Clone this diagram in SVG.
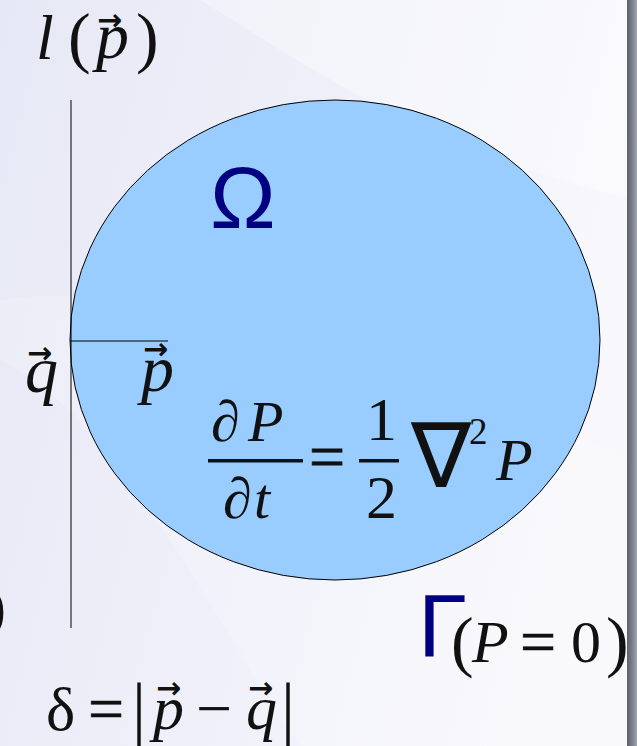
<svg xmlns="http://www.w3.org/2000/svg" width="637" height="746" viewBox="0 0 637 746">
<defs>
<linearGradient id="bg" x1="0" y1="0" x2="1" y2="0.3">
<stop offset="0" stop-color="#e6e8f5"/>
<stop offset="0.55" stop-color="#eff0f9"/>
<stop offset="1" stop-color="#f8f8fc"/>
</linearGradient>
<linearGradient id="bar" x1="0" y1="0" x2="1" y2="0">
<stop offset="0" stop-color="#5c606a"/>
<stop offset="0.5" stop-color="#7a7e88"/>
<stop offset="1" stop-color="#a4a6ae"/>
</linearGradient>
<style>
.m{font-family:"Liberation Serif","DejaVu Serif",serif;fill:#111}
.i{font-style:italic}
.v{font-family:"DejaVu Sans",sans-serif;font-weight:bold;font-size:30px;fill:#111}
.g{font-family:"Liberation Sans","DejaVu Sans",sans-serif;fill:#000080}
.ln{stroke:#000;stroke-width:1;fill:none}
</style>
</defs>
<rect width="637" height="746" fill="url(#bg)"/>
<path d="M200 0 C300 60 420 150 637 200 L637 0 Z" fill="#ffffff" opacity="0.35"/>
<path d="M0 300 C120 280 260 330 400 380 L637 460 L637 746 L300 746 C200 600 120 420 0 360 Z" fill="#ffffff" opacity="0.2"/>
<rect x="627" y="0" width="10" height="746" fill="url(#bar)"/>

<g id="domain">
<ellipse cx="335" cy="340" rx="265" ry="240" fill="#99ccff" stroke="#000" stroke-width="1"/>
<text class="g" x="210" y="228" font-size="88">Ω</text>
</g>

<g id="connectors">
<line class="ln" x1="71" y1="100" x2="71" y2="628"/>
<line class="ln" x1="70" y1="341" x2="168" y2="341"/>
</g>

<g id="label-l">
<text class="m i" x="36" y="59" font-size="64">l</text>
<text class="m" x="68" y="60" font-size="68">(</text>
<text class="m i" x="96" y="58" font-size="66">p</text>
<text class="v" x="97" y="30">→</text>
<text class="m" x="136" y="60" font-size="68">)</text>
</g>

<g id="label-q">
<text class="m i" x="25" y="392" font-size="66">q</text>
<text class="v" x="27" y="363">→</text>
</g>

<g id="label-p">
<text class="m i" x="141" y="391" font-size="66">p</text>
<text class="v" x="143" y="359">→</text>
</g>

<g id="equation">
<text class="m i" x="211" y="441" font-size="58">∂</text>
<text class="m i" x="248" y="441" font-size="58">P</text>
<rect x="208" y="459" width="95" height="3.5" fill="#111"/>
<text class="m i" x="223" y="518" font-size="58">∂</text>
<text class="m i" x="254" y="518" font-size="58">t</text>
<text class="m" x="309" y="478" font-size="64" stroke="#111" stroke-width="0.8">=</text>
<text class="m" x="366" y="440" font-size="62">1</text>
<rect x="359" y="459" width="40" height="3.5" fill="#111"/>
<text class="m" x="366" y="518" font-size="62">2</text>
<text x="411" y="487" font-family="DejaVu Sans, sans-serif" font-size="90" fill="#111">∇</text>
<text class="m" x="469" y="444" font-size="37">2</text>
<text class="m i" x="496" y="480" font-size="60">P</text>
</g>

<g id="boundary">
<text class="g" x="418" y="657" font-size="89">Γ</text>
<text class="m" x="451" y="664" font-size="68">(</text>
<text class="m i" x="472" y="662" font-size="60">P</text>
<text class="m" x="520" y="663" font-size="64" stroke="#111" stroke-width="0.6">=</text>
<text class="m" x="571" y="662" font-size="60">0</text>
<text class="m" x="606" y="664" font-size="68">)</text>
</g>

<g id="delta">
<text class="m" x="-14" y="627" font-size="60">)</text>
<text class="m" x="46" y="730" font-size="62">δ</text>
<text class="m" x="88" y="730" font-size="64" stroke="#111" stroke-width="0.6">=</text>
<text class="m" x="132" y="731" font-size="70">|</text>
<text class="m i" x="153" y="729" font-size="62">p</text>
<text class="v" x="156" y="698">→</text>
<text class="m" x="196" y="730" font-size="64">−</text>
<text class="m i" x="246" y="729" font-size="62">q</text>
<text class="v" x="248" y="698">→</text>
<text class="m" x="281" y="731" font-size="70">|</text>
</g>
</svg>
